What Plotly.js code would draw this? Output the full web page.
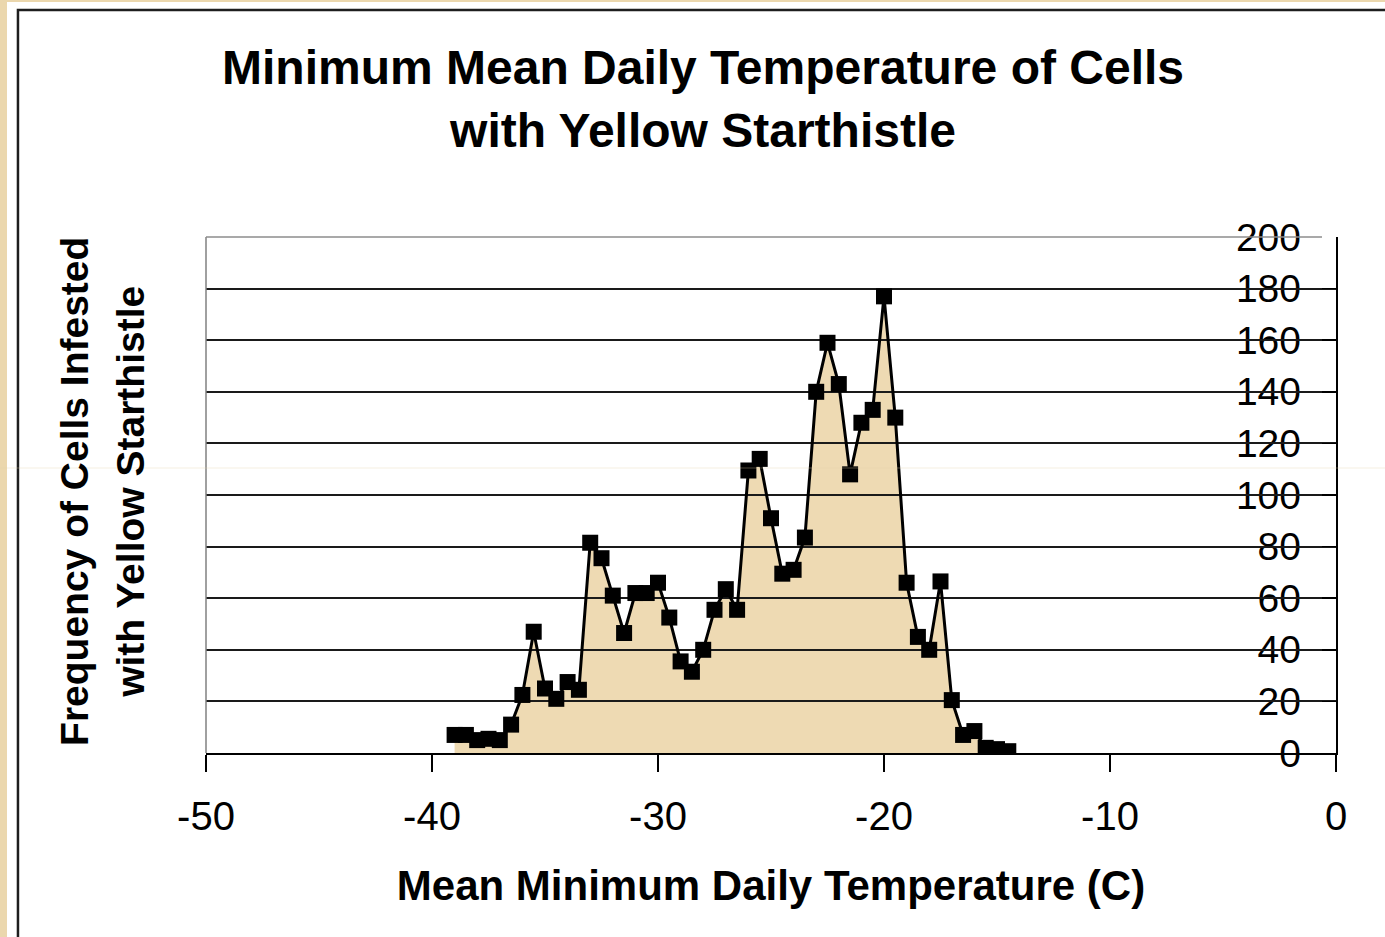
<!DOCTYPE html>
<html>
<head>
<meta charset="utf-8">
<script src="https://cdn.plot.ly/plotly-3.0.1.min.js"></script>
<style>html,body{margin:0;padding:0;background:#fff;}#chart{width:1385px;height:937px;}</style>
</head>
<body>
<div id="chart"></div>
<script>
// Mean minimum daily temperature (C), bin centres
var temps = [-39, -38.5, -38, -37.5, -37, -36.5, -36, -35.5, -35, -34.5,
             -34, -33.5, -33, -32.5, -32, -31.5, -31, -30.5, -30, -29.5,
             -29, -28.5, -28, -27.5, -27, -26.5, -26, -25.5, -25, -24.5,
             -24, -23.5, -23, -22.5, -22, -21.5, -21, -20.5, -20, -19.5,
             -19, -18.5, -18, -17.5, -17, -16.5, -16, -15.5, -15, -14.5];
// Frequency of cells infested with yellow starthistle
var freq = [7, 7, 5, 5.5, 5, 11, 22.5, 47, 25, 21,
            27.5, 24.5, 81.5, 75.5, 61, 46.5, 62, 62, 66, 52.5,
            35.5, 31.5, 40, 55.5, 63.5, 55.5, 109.5, 114, 91, 69.5,
            71, 83.5, 140, 159, 143, 108, 128, 133, 177, 130,
            66, 45, 40, 66.5, 20.5, 7, 8.5, 2, 1.5, 0.7];
var xTicks = [-50, -40, -30, -20, -10, 0];
var yTicks = [0, 20, 40, 60, 80, 100, 120, 140, 160, 180, 200];

var FONT = '"Liberation Sans", Arial, sans-serif';
var TAN = '#EEDAB3';

// lower subplot: tan area (so the grid of the upper subplot shows through it)
var fillTrace = {
  x: temps, y: freq, xaxis: 'x', yaxis: 'y',
  type: 'scatter', mode: 'lines', fill: 'tozeroy',
  fillcolor: TAN, line: {width: 0, color: TAN},
  hoverinfo: 'skip', showlegend: false
};
// upper subplot: black line with square markers
var lineTrace = {
  x: temps, y: freq, xaxis: 'x2', yaxis: 'y2',
  type: 'scatter', mode: 'lines+markers',
  line: {color: '#000', width: 3},
  marker: {symbol: 'square', size: 16, color: '#000'},
  showlegend: false
};

var layout = {
  width: 1385, height: 937,
  paper_bgcolor: '#EBD7AD',
  plot_bgcolor: 'rgba(0,0,0,0)',
  margin: {l: 206, r: 49, t: 237, b: 184},
  font: {family: FONT, color: '#000'},
  showlegend: false,
  title: {
    text: 'Minimum Mean Daily Temperature of Cells<br>with Yellow Starthistle',
    font: {family: FONT, size: 48, weight: 'bold', color: '#000'},
    x: 0.5076, xref: 'container', xanchor: 'center',
    y: 0.91, yref: 'container', yanchor: 'top'
  },
  xaxis: {range: [-50, 0], visible: false, domain: [0, 1], anchor: 'y'},
  // y tick labels: drawn left-aligned-to-right just inside the right axis
  yaxis: {
    range: [0, 200], domain: [0, 1], side: 'left',
    anchor: 'free', position: 0.969,
    tickvals: yTicks, ticktext: yTicks.map(String),
    ticks: '', showline: false, showgrid: false, zeroline: false,
    tickfont: {family: FONT, size: 39, color: '#000'}
  },
  xaxis2: {
    range: [-50, 0], domain: [0, 1], anchor: 'y2',
    tickvals: xTicks, ticktext: xTicks.map(String),
    ticks: 'outside', ticklen: 17, tickwidth: 1.5, tickcolor: '#000',
    showline: true, linecolor: '#000', linewidth: 1.5,
    showgrid: false, zeroline: false,
    tickfont: {family: FONT, size: 40, color: '#000'},
    ticklabelstandoff: 10,
    title: {text: 'Mean Minimum Daily Temperature (C)',
            font: {family: FONT, size: 42, weight: 'bold', color: '#000'},
            standoff: 34}
  },
  yaxis2: {
    range: [0, 200], domain: [0, 1], anchor: 'x2', side: 'right',
    tickvals: yTicks,
    ticks: 'inside', ticklen: 14, tickwidth: 1.5, tickcolor: '#000',
    showticklabels: false,
    showline: true, linecolor: '#000', linewidth: 1.5,
    showgrid: true, gridcolor: '#1a1a1a', gridwidth: 2,
    zeroline: false
  },
  shapes: [
    {type: 'rect', xref: 'paper', yref: 'paper', layer: 'below',
     x0: -0.1761, x1: 1.1, y0: -0.5, y1: 1.4554,
     fillcolor: '#fff', line: {width: 0}},
    {type: 'rect', xref: 'paper', yref: 'paper', layer: 'below',
     x0: -0.1664, x1: 1.1, y0: -0.5, y1: 1.4399,
     fillcolor: 'rgba(0,0,0,0)', line: {color: '#1e1e1e', width: 2.5}},
    {type: 'line', xref: 'paper', yref: 'paper', layer: 'above',
     x0: 0, x1: 0, y0: 0, y1: 1,
     line: {color: '#808080', width: 1.5}},
    {type: 'line', xref: 'paper', yref: 'paper', layer: 'above',
     x0: 0, x1: 0.9876, y0: 1, y1: 1,
     line: {color: '#8c8c8c', width: 1.5}},
    {type: 'line', xref: 'paper', yref: 'paper', layer: 'above',
     x0: -0.19, x1: 1.1, y0: 0.5523, y1: 0.5523,
     line: {color: 'rgba(225,205,165,0.35)', width: 1}}
  ],
  annotations: [
    {text: 'Frequency of Cells Infested', xref: 'paper', yref: 'paper',
     x: -0.1159, y: 0.506, xanchor: 'center', yanchor: 'middle',
     textangle: -90, showarrow: false,
     font: {family: FONT, size: 39, weight: 'bold', color: '#000'}},
    {text: 'with Yellow Starthistle', xref: 'paper', yref: 'paper',
     x: -0.0664, y: 0.506, xanchor: 'center', yanchor: 'middle',
     textangle: -90, showarrow: false,
     font: {family: FONT, size: 39, weight: 'bold', color: '#000'}}
  ]
};

Plotly.newPlot('chart', [fillTrace, lineTrace], layout, {staticPlot: true, displayModeBar: false});
</script>
</body>
</html>
